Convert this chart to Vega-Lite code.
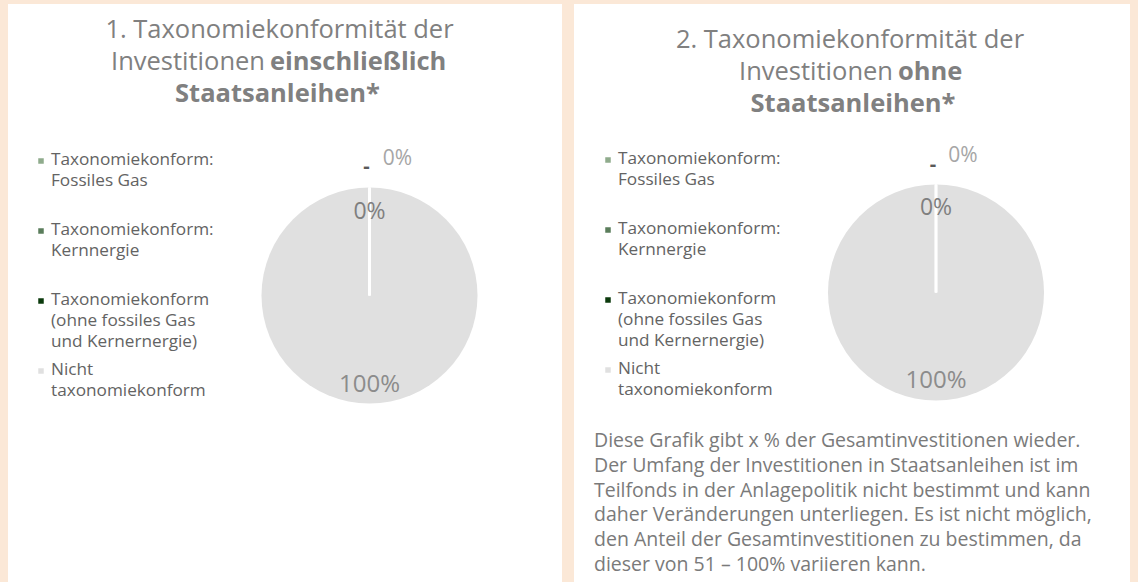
{
  "$schema": "https://vega.github.io/schema/vega-lite/v6.json",
  "background": "#FBE8D7",
  "padding": {"left": 8, "top": 4, "right": 8, "bottom": 0},
  "autosize": {"type": "pad"},
  "spacing": 12,
  "config": {
    "view": {"fill": "white", "stroke": null},
    "font": "Open Sans",
    "style": {"guide-label": {"lineHeight": 21}},
    "legend": {
      "orient": "none",
      "title": null,
      "symbolType": "M-0.275,0.725H0.275V1.275H-0.275Z",
      "symbolSize": 400,
      "symbolStrokeWidth": 0,
      "labelOffset": 0,
      "labelFont": "Open Sans",
      "labelFontSize": 17.2,
      "labelColor": "#636363",
      "labelBaseline": "top",
      "labelLimit": 400,
      "rowPadding": 0,
      "gridAlign": "all"
    }
  },
  "datasets": {
    "pie": [
      {"category": "Taxonomiekonform: Fossiles Gas", "share": 0},
      {"category": "Taxonomiekonform: Kernnergie", "share": 0},
      {"category": "Taxonomiekonform (ohne fossiles Gas und Kernernergie)", "share": 0},
      {"category": "Nicht taxonomiekonform", "share": 1}
    ]
  },
  "resolve": {"scale": {"color": "independent", "theta": "independent"}, "legend": {"color": "independent"}},
  "hconcat": [
    {
      "width": 554,
      "height": 578,
      "view": {"fill": "white", "stroke": null},
      "data": {"name": "pie"},
      "layer": [
        {
          "mark": {"type": "arc", "x": 361.5, "y": 291.5, "outerRadius": 108},
          "encoding": {
            "theta": {"field": "share", "type": "quantitative", "stack": true},
            "color": {
              "field": "category", "type": "nominal",
              "scale": {
                "domain": ["Taxonomiekonform: Fossiles Gas", "Taxonomiekonform: Kernnergie", "Taxonomiekonform (ohne fossiles Gas und Kernernergie)", "Nicht taxonomiekonform"],
                "range": ["#8FAB8C", "#5A7D5B", "#0B3A0C", "#E0E0E0"]
              },
              "legend": {
                "legendX": 23, "legendY": 137,
                "labelExpr": "datum.label == 'Taxonomiekonform: Fossiles Gas' ? ['Taxonomiekonform:', 'Fossiles Gas'] : datum.label == 'Taxonomiekonform: Kernnergie' ? ['Taxonomiekonform:', 'Kernnergie'] : datum.label == 'Nicht taxonomiekonform' ? ['Nicht', 'taxonomiekonform'] : ['Taxonomiekonform', '(ohne fossiles Gas', 'und Kernernergie)']"
              }
            }
          }
        },
        {
          "transform": [{"filter": "datum.share == 0"}],
          "mark": {"type": "arc", "x": 361.5, "y": 291.5, "outerRadius": 108, "stroke": "white", "strokeWidth": 2.5, "fillOpacity": 0},
          "encoding": {"theta": {"field": "share", "type": "quantitative", "stack": true}}
        },
        {
          "transform": [{"filter": "datum.category == 'Taxonomiekonform (ohne fossiles Gas und Kernernergie)'"}],
          "mark": {"type": "text", "x": 361.5, "y": 291.5, "radius": 84, "fontSize": 23, "color": "#7F7F7F"},
          "encoding": {"theta": {"field": "share", "type": "quantitative", "stack": true}, "text": {"field": "share", "type": "quantitative", "format": ".0%"}}
        },
        {
          "transform": [{"filter": "datum.category == 'Taxonomiekonform: Fossiles Gas'"}],
          "mark": {"type": "text", "x": 361.5, "y": 291.5, "radius": 137, "dx": 28, "fontSize": 21, "color": "#A6A6A6"},
          "encoding": {"theta": {"field": "share", "type": "quantitative", "stack": true}, "text": {"field": "share", "type": "quantitative", "format": ".0%"}}
        },
        {
          "transform": [{"filter": "datum.category == 'Taxonomiekonform: Kernnergie'"}],
          "mark": {"type": "text", "x": 361.5, "y": 291.5, "radius": 129, "dx": -3, "text": "-", "fontSize": 20, "fontWeight": "bold", "color": "#595959"},
          "encoding": {"theta": {"field": "share", "type": "quantitative", "stack": true}}
        },
        {
          "transform": [{"filter": "datum.category == 'Nicht taxonomiekonform'"}],
          "mark": {"type": "text", "x": 361.5, "y": 291.5, "radius": 89, "fontSize": 24, "color": "#8C8C8C"},
          "encoding": {"theta": {"field": "share", "type": "quantitative", "stack": true}, "text": {"field": "share", "type": "quantitative", "format": ".0%"}}
        },
        {
          "data": {"values": [{}]},
          "mark": {"type": "text", "text": "1. Taxonomiekonformität der", "x": 271.5, "y": 26, "fontSize": 25.5, "color": "#808080", "align": "center", "baseline": "middle"}
        },
        {
          "data": {"values": [{}]},
          "mark": {"type": "text", "text": "Investitionen", "x": 257, "y": 58, "fontSize": 25.5, "color": "#808080", "align": "right", "baseline": "middle"}
        },
        {
          "data": {"values": [{}]},
          "mark": {"type": "text", "text": "einschließlich", "x": 262, "y": 58, "fontSize": 25.5, "fontWeight": "bold", "color": "#808080", "align": "left", "baseline": "middle"}
        },
        {
          "data": {"values": [{}]},
          "mark": {"type": "text", "text": "Staatsanleihen*", "x": 269.5, "y": 90, "fontSize": 25.5, "fontWeight": "bold", "color": "#808080", "align": "center", "baseline": "middle"}
        }
      ]
    },
    {
      "width": 556,
      "height": 578,
      "view": {"fill": "white", "stroke": null},
      "data": {"name": "pie"},
      "layer": [
        {
          "mark": {"type": "arc", "x": 362, "y": 288.5, "outerRadius": 108},
          "encoding": {
            "theta": {"field": "share", "type": "quantitative", "stack": true},
            "color": {
              "field": "category", "type": "nominal",
              "scale": {
                "domain": ["Taxonomiekonform: Fossiles Gas", "Taxonomiekonform: Kernnergie", "Taxonomiekonform (ohne fossiles Gas und Kernernergie)", "Nicht taxonomiekonform"],
                "range": ["#8FAB8C", "#5A7D5B", "#0B3A0C", "#E0E0E0"]
              },
              "legend": {
                "legendX": 24, "legendY": 136,
                "labelExpr": "datum.label == 'Taxonomiekonform: Fossiles Gas' ? ['Taxonomiekonform:', 'Fossiles Gas'] : datum.label == 'Taxonomiekonform: Kernnergie' ? ['Taxonomiekonform:', 'Kernnergie'] : datum.label == 'Nicht taxonomiekonform' ? ['Nicht', 'taxonomiekonform'] : ['Taxonomiekonform', '(ohne fossiles Gas', 'und Kernernergie)']"
              }
            }
          }
        },
        {
          "transform": [{"filter": "datum.share == 0"}],
          "mark": {"type": "arc", "x": 362, "y": 288.5, "outerRadius": 108, "stroke": "white", "strokeWidth": 2.5, "fillOpacity": 0},
          "encoding": {"theta": {"field": "share", "type": "quantitative", "stack": true}}
        },
        {
          "transform": [{"filter": "datum.category == 'Taxonomiekonform (ohne fossiles Gas und Kernernergie)'"}],
          "mark": {"type": "text", "x": 362, "y": 288.5, "radius": 85, "fontSize": 23, "color": "#7F7F7F"},
          "encoding": {"theta": {"field": "share", "type": "quantitative", "stack": true}, "text": {"field": "share", "type": "quantitative", "format": ".0%"}}
        },
        {
          "transform": [{"filter": "datum.category == 'Taxonomiekonform: Fossiles Gas'"}],
          "mark": {"type": "text", "x": 362, "y": 288.5, "radius": 137, "dx": 27, "fontSize": 21, "color": "#A6A6A6"},
          "encoding": {"theta": {"field": "share", "type": "quantitative", "stack": true}, "text": {"field": "share", "type": "quantitative", "format": ".0%"}}
        },
        {
          "transform": [{"filter": "datum.category == 'Taxonomiekonform: Kernnergie'"}],
          "mark": {"type": "text", "x": 362, "y": 288.5, "radius": 128, "dx": -3, "text": "-", "fontSize": 20, "fontWeight": "bold", "color": "#595959"},
          "encoding": {"theta": {"field": "share", "type": "quantitative", "stack": true}}
        },
        {
          "transform": [{"filter": "datum.category == 'Nicht taxonomiekonform'"}],
          "mark": {"type": "text", "x": 362, "y": 288.5, "radius": 88, "fontSize": 24, "color": "#8C8C8C"},
          "encoding": {"theta": {"field": "share", "type": "quantitative", "stack": true}, "text": {"field": "share", "type": "quantitative", "format": ".0%"}}
        },
        {
          "data": {"values": [{}]},
          "mark": {"type": "text", "text": "2. Taxonomiekonformität der", "x": 276, "y": 36, "fontSize": 25.5, "color": "#808080", "align": "center", "baseline": "middle"}
        },
        {
          "data": {"values": [{}]},
          "mark": {"type": "text", "text": "Investitionen", "x": 319, "y": 68, "fontSize": 25.5, "color": "#808080", "align": "right", "baseline": "middle"}
        },
        {
          "data": {"values": [{}]},
          "mark": {"type": "text", "text": "ohne", "x": 324, "y": 68, "fontSize": 25.5, "fontWeight": "bold", "color": "#808080", "align": "left", "baseline": "middle"}
        },
        {
          "data": {"values": [{}]},
          "mark": {"type": "text", "text": "Staatsanleihen*", "x": 279, "y": 100, "fontSize": 25.5, "fontWeight": "bold", "color": "#808080", "align": "center", "baseline": "middle"}
        },
        {
          "data": {"values": [{}]},
          "mark": {
            "type": "text",
            "text": ["Diese Grafik gibt x % der Gesamtinvestitionen wieder.", "Der Umfang der Investitionen in Staatsanleihen ist im", "Teilfonds in der Anlagepolitik nicht bestimmt und kann", "daher Veränderungen unterliegen. Es ist nicht möglich,", "den Anteil der Gesamtinvestitionen zu bestimmen, da", "dieser von 51 – 100% variieren kann."],
            "x": 20, "y": 437, "fontSize": 19.5, "lineHeight": 24.8, "color": "#7A7A7A", "align": "left", "baseline": "middle"
          }
        }
      ]
    }
  ]
}
